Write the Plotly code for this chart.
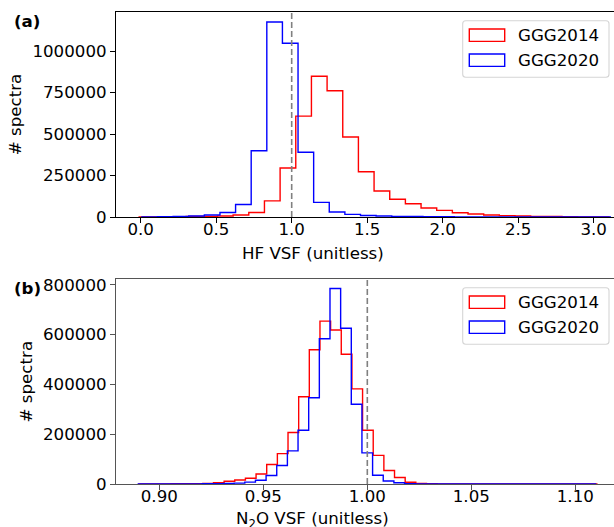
import numpy as np
import plotly.graph_objects as go

# ---- HF VSF histograms (30 bins each) ----
hf_2014_start, hf_2014_width = -0.010, 0.1037
hf_2014_counts = [1000, 1000, 2000, 3000, 4000, 6000, 12000, 27000, 97000, 295000,
                  608000, 849000, 761000, 482000, 273000, 157000, 107000, 80000, 54000, 40000,
                  26000, 18000, 12000, 8000, 6000, 4000, 3000, 2000, 1000, 1000]
hf_2020_start, hf_2020_width = 0.008, 0.1034
hf_2020_counts = [1000, 2000, 3000, 6000, 12000, 27000, 75000, 399000, 1176000, 1048000,
                  390000, 88000, 30000, 16000, 9000, 6000, 4000, 3000, 2000, 1500,
                  1000, 1000, 800, 600, 500, 400, 300, 200, 200, 100]

# ---- N2O VSF histograms (43 bins each) ----
n2o_2014_start, n2o_2014_width = 0.8902, 0.00512
n2o_2014_counts = [300, 400, 600, 800, 1000, 1500, 2500, 5500, 11000, 16000,
                   23000, 40000, 78000, 122000, 207000, 350000, 539000, 654000, 618000, 521000,
                   382000, 216000, 115000, 54000, 26000, 7000, 2000, 800, 400, 300,
                   200, 200, 150, 100, 100, 100, 100, 80, 80, 60, 50, 50, 40]
n2o_2020_start, n2o_2020_width = 0.8899, 0.00512
n2o_2020_counts = [100, 150, 200, 300, 400, 600, 900, 1300, 2000, 3500,
                   7500, 15000, 34000, 74000, 133000, 216000, 346000, 583000, 785000, 625000,
                   320000, 125000, 35000, 12000, 5000, 1500, 500, 300, 200, 150,
                   100, 100, 80, 60, 50, 50, 40, 40, 30, 30, 20, 20, 20]

reference_vsf = 1.0
series_names = ["GGG2014", "GGG2020"]
series_colors = ["red", "blue"]

hf_xticks = [0.0, 0.5, 1.0, 1.5, 2.0, 2.5, 3.0]
hf_yticks = [0, 250000, 500000, 750000, 1000000]
n2o_xticks = [0.90, 0.95, 1.00, 1.05, 1.10]
n2o_yticks = [0, 200000, 400000, 600000, 800000]

# ---- page geometry (pixels) ----
W, H = 614, 527
ML, MR, MT, MB = 116, 0, 12, 43
PW, PH = W - ML - MR, H - MT - MB
FONT = "DejaVu Sans"
FS = 16.67


def px(x):
    return (x - ML) / PW


def py(y):
    return (H - MB - y) / PH


def step_xy(start, width, counts):
    edges = start + width * np.arange(len(counts) + 1)
    x = np.concatenate([[edges[0]], edges])
    y = np.concatenate([[0], np.asarray(counts, float), [0]])
    return x, y


fig = go.Figure()

panels = [
    ("x", "y", [(hf_2014_start, hf_2014_width, hf_2014_counts),
                (hf_2020_start, hf_2020_width, hf_2020_counts)]),
    ("x2", "y2", [(n2o_2014_start, n2o_2014_width, n2o_2014_counts),
                  (n2o_2020_start, n2o_2020_width, n2o_2020_counts)]),
]
for xa, ya, series in panels:
    for (start, width, counts), name, color in zip(series, series_names, series_colors):
        x, y = step_xy(start, width, counts)
        fig.add_trace(go.Scatter(x=x, y=y, mode="lines", line_shape="hv",
                                 line=dict(color=color, width=1.4),
                                 name=name, showlegend=False, xaxis=xa, yaxis=ya,
                                 hoverinfo="skip"))

top_dom = [py(217), 1.0]
bot_dom = [0.0, py(279.3)]

axis_common = dict(showgrid=False, zeroline=False, showline=True, ticks="outside",
                   ticklen=5, tickwidth=1.1, linewidth=1.1,
                   tickfont=dict(family=FONT, size=FS, color="black"))

fig.update_layout(
    width=W, height=H,
    margin=dict(l=ML, r=MR, t=MT, b=MB, pad=0),
    paper_bgcolor="white", plot_bgcolor="white",
    font=dict(family=FONT, size=FS, color="black"),
    showlegend=False,
    xaxis=dict(axis_common, domain=[0, 1], anchor="y", range=[-0.1635, 3.1344],
               tickvals=hf_xticks, tickformat=".1f", mirror=True, ticklabelstandoff=-8,
               linecolor="black", tickcolor="black"),
    yaxis=dict(axis_common, domain=top_dom, anchor="x", range=[0, 1236000],
               tickvals=hf_yticks, tickformat="d", linecolor="black", tickcolor="black",
               title=dict(text="# spectra", font=dict(family=FONT, size=FS), standoff=6)),
    xaxis2=dict(axis_common, domain=[0, 1], anchor="y2", range=[0.87918, 1.1186],
                tickvals=n2o_xticks, tickformat=".2f", mirror=True, ticklabelstandoff=-8,
                linecolor="#555555", tickcolor="#555555"),
    yaxis2=dict(axis_common, domain=bot_dom, anchor="x2", range=[0, 821700],
                tickvals=n2o_yticks, tickformat="d", linecolor="#555555", tickcolor="#555555",
                title=dict(text="# spectra", font=dict(family=FONT, size=FS), standoff=6)),
)

shapes = []
annotations = []

# dashed reference lines at VSF = 1
for xa, ya in [("x", "y"), ("x2", "y2")]:
    shapes.append(dict(type="line", xref=xa, yref=f"{ya} domain",
                       x0=reference_vsf, x1=reference_vsf, y0=0, y1=1,
                       line=dict(color="#808080", width=1.6, dash="6px,3px"), layer="above"))

# axis labels and panel tags
annotations.append(dict(text="HF VSF (unitless)", xref="paper", yref="paper",
                        x=px(312.5), y=py(253), xanchor="center", yanchor="middle",
                        showarrow=False, font=dict(family=FONT, size=FS)))
annotations.append(dict(text="N<sub>2</sub>O VSF (unitless)", xref="paper", yref="paper",
                        x=px(312.5), y=py(519.5), xanchor="center", yanchor="middle",
                        showarrow=False, font=dict(family=FONT, size=FS)))
for tag, top in [("<b>(a)</b>", 12.3), ("<b>(b)</b>", 279.3)]:
    annotations.append(dict(text=tag, xref="paper", yref="paper",
                            x=px(12), y=py(top - 2), xanchor="left", yanchor="top",
                            showarrow=False, font=dict(family=FONT, size=FS)))

# legends (outlined patches, as for step histograms)
for dy in [0, 267]:
    x0, x1 = px(462.7), px(609)
    y0, y1 = py(77.3 + dy), py(20.7 + dy)
    rx, ry = 3 / PW, 3 / PH
    path = (f"M {x0+rx},{y0} L {x1-rx},{y0} Q {x1},{y0} {x1},{y0+ry} "
            f"L {x1},{y1-ry} Q {x1},{y1} {x1-rx},{y1} L {x0+rx},{y1} "
            f"Q {x0},{y1} {x0},{y1-ry} L {x0},{y0+ry} Q {x0},{y0} {x0+rx},{y0} Z")
    shapes.append(dict(type="path", xref="paper", yref="paper", path=path,
                       fillcolor="rgba(255,255,255,0.8)",
                       line=dict(color="#d5d5d5", width=1.1), layer="above"))
    for i, (name, color) in enumerate(zip(series_names, series_colors)):
        cy = 35.2 + 25 * i + dy
        shapes.append(dict(type="rect", xref="paper", yref="paper",
                           x0=px(469.3), x1=px(504.7), y0=py(cy + 6.2), y1=py(cy - 6.2),
                           line=dict(color=color, width=1.4), fillcolor="rgba(0,0,0,0)",
                           layer="above"))
        annotations.append(dict(text=name, xref="paper", yref="paper",
                                x=px(516), y=py(cy), xanchor="left", yanchor="middle",
                                showarrow=False, font=dict(family=FONT, size=FS)))

fig.update_layout(shapes=shapes, annotations=annotations)
fig.write_html("out.html")
